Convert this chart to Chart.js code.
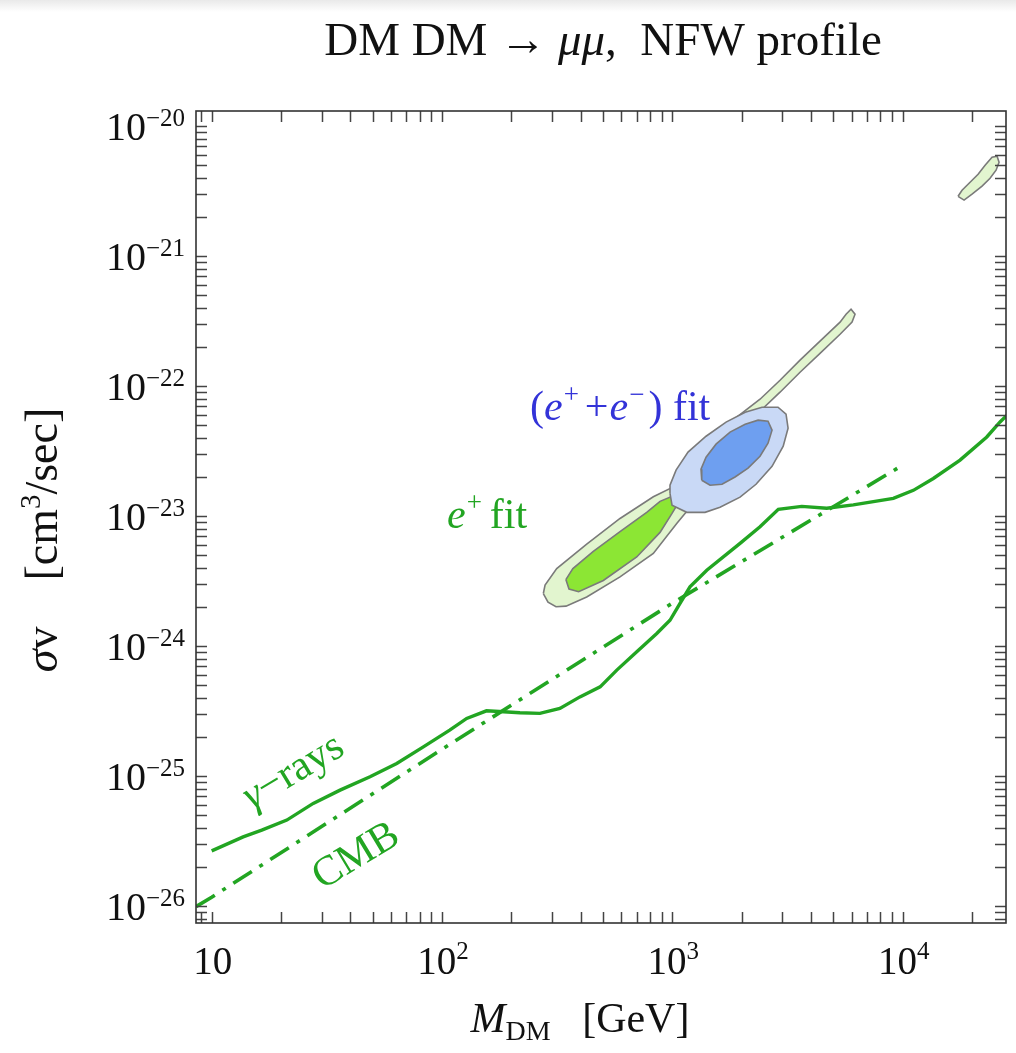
<!DOCTYPE html>
<html><head><meta charset="utf-8">
<script src="https://cdn.jsdelivr.net/npm/chart.js@4.4.1/dist/chart.umd.min.js"></script>
<style>
html,body{margin:0;padding:0;background:#fff;}
#wrap{width:1016px;height:1053px;position:relative;background:linear-gradient(#e9e9e9 0px,#ffffff 12px,#ffffff 100%);}
canvas{display:block;}
</style>
</head><body><div id="wrap"><canvas id="c" width="1016" height="1053"></canvas></div>
<script>
// ---------- data (M_DM in GeV, sigma v in cm^3/s) ----------
const gammaMass = [10, 13.7, 16.5, 21.2, 27.6, 36.1, 48.7, 63.6, 83.0, 108, 128, 156, 185, 218, 266, 325, 397, 486, 574, 701, 856, 977, 1080, 1193, 1411, 1968, 2403, 2886, 3647, 4681, 6107, 9112, 11130, 13590, 17750, 23190, 26480, 28400];
const gammaSigma = [2.66e-26, 3.41e-26, 3.84e-26, 4.59e-26, 6.17e-26, 7.80e-26, 9.88e-26, 1.25e-25, 1.68e-25, 2.26e-25, 2.78e-25, 3.18e-25, 3.13e-25, 3.07e-25, 3.04e-25, 3.32e-25, 4.07e-25, 4.86e-25, 6.54e-25, 9.04e-25, 1.25e-24, 1.58e-24, 2.13e-24, 2.86e-24, 3.84e-24, 6.17e-24, 8.28e-24, 1.13e-23, 1.19e-23, 1.15e-23, 1.22e-23, 1.37e-23, 1.58e-23, 1.95e-23, 2.70e-23, 4.07e-23, 5.31e-23, 5.98e-23];

const cmbMass = [8.55, 10, 100, 1000, 10000];
const cmbSigma = [9.9e-27, 1.17e-26, 1.61e-25, 2.14e-24, 2.47e-23];

// e+ fit, outer region
const ePosOuterMass = [275.4, 288.6, 312.6, 345.5, 424.9, 592.8, 827, 1045, 1320, 1968, 2403, 2935, 3585, 4378, 5349, 6030, 6213, 5969, 5679, 5349, 4378, 3585, 2935, 2403, 1611, 1010, 827, 592.8, 424.9, 314.8, 280.2];
const ePosOuterSigma = [2.54e-24, 2.18e-24, 2.01e-24, 2.03e-24, 2.39e-24, 3.41e-24, 5.17e-24, 8.79e-24, 1.45e-23, 3.84e-23, 6.42e-23, 8.99e-23, 1.28e-22, 1.79e-22, 2.51e-22, 3.11e-22, 3.58e-22, 3.91e-22, 3.58e-22, 3.11e-22, 2.22e-22, 1.585e-22, 1.11e-22, 7.94e-23, 4.59e-23, 1.68e-23, 1.41e-23, 9.60e-24, 6.10e-24, 3.95e-24, 2.95e-24];
// e+ fit, inner region
const ePosInnerMass = [345, 356, 392, 501.7, 700.6, 884.3, 997, 1080, 997, 884.3, 774.1, 592.8, 453.9, 370];
const ePosInnerSigma = [3.25e-24, 2.75e-24, 2.62e-24, 3.20e-24, 4.85e-24, 7.50e-24, 1.05e-23, 1.33e-23, 1.42e-23, 1.30e-23, 1.07e-23, 7.60e-24, 5.35e-24, 3.95e-24];
// e+ fit, high-mass island
const ePosHighMass = [17400, 18480, 20010, 22120, 23960, 25440, 26220, 25700, 24440, 22800, 21260, 19620, 18110];
const ePosHighSigma = [2.89e-21, 2.70e-21, 3.00e-21, 3.46e-21, 3.98e-21, 4.59e-21, 5.29e-21, 5.88e-21, 5.77e-21, 5.01e-21, 4.27e-21, 3.71e-21, 3.22e-21];
// (e+ + e-) fit, outer region
const eTotOuterMass = [977, 997, 1155, 1387, 1611, 1968, 2309, 2710, 3030, 3181, 3117, 2877, 2452, 2071, 1711, 1401, 1170, 1038, 977];
const eTotOuterSigma = [1.50e-23, 1.215e-23, 1.07e-23, 1.07e-23, 1.17e-23, 1.40e-23, 1.76e-23, 2.42e-23, 3.46e-23, 4.75e-23, 6.09e-23, 6.89e-23, 6.89e-23, 6.31e-23, 5.29e-23, 4.12e-23, 3.11e-23, 2.26e-23, 1.73e-23];
// (e+ + e-) fit, inner region
const eTotInnerMass = [1342, 1458, 1644, 1872, 2132, 2403, 2603, 2710, 2603, 2357, 2071, 1781, 1548, 1401, 1332];
const eTotInnerSigma = [1.89e-23, 1.73e-23, 1.76e-23, 2.00e-23, 2.34e-23, 2.89e-23, 3.64e-23, 4.59e-23, 5.38e-23, 5.48e-23, 5.10e-23, 4.43e-23, 3.58e-23, 2.84e-23, 2.30e-23];

// axes
const xMin = 8.55, xMax = 28100;
const yMin = 7.41e-27, yMax = 1.31e-20;
const xTickValues = [10, 100, 1000, 10000];
const xTickExponents = ['', '2', '3', '4'];
const yTickValues = [1e-20, 1e-21, 1e-22, 1e-23, 1e-24, 1e-25, 1e-26];
const yTickExponents = ['\u221220', '\u221221', '\u221222', '\u221223', '\u221224', '\u221225', '\u221226'];

// ---------- styling ----------
const GREEN = '#22a522';
const BLUE_TXT = '#3333d8';
const OUTLINE = '#7a7a7a';
const SERIF = '"Liberation Serif", "DejaVu Serif", serif';

const toPts = (xs, ys) => xs.map((x, i) => ({x: x, y: ys[i]}));
const closed = (xs, ys) => { const p = toPts(xs, ys); p.push({x: xs[0], y: ys[0]}); return p; };

function region(data, fillColor, order) {
  return {data: data, showLine: true, fill: 'shape', backgroundColor: fillColor,
    borderColor: OUTLINE, borderWidth: 1.6, pointRadius: 0, tension: 0, order: order};
}

function fontOf(p) { return (p.it ? 'italic ' : '') + p.s + 'px ' + SERIF; }
function richWidth(ctx, parts) {
  let w = 0;
  for (const p of parts) { ctx.font = fontOf(p); w += ctx.measureText(p.t).width + (p.g || 0); }
  return w;
}
function drawRich(ctx, parts, x, y, align) {
  const w = richWidth(ctx, parts);
  let cx = align === 'center' ? x - w / 2 : (align === 'right' ? x - w : x);
  ctx.textAlign = 'left'; ctx.textBaseline = 'alphabetic';
  for (const p of parts) {
    ctx.font = fontOf(p);
    ctx.fillText(p.t, cx, y + (p.dy || 0));
    cx += ctx.measureText(p.t).width + (p.g || 0);
  }
}
function drawRotated(ctx, parts, x, y, ang, align) {
  ctx.save(); ctx.translate(x, y); ctx.rotate(ang); drawRich(ctx, parts, 0, 0, align); ctx.restore();
}

const framePlugin = {
  id: 'frame',
  afterDatasetsDraw(chart) {
    const ctx = chart.ctx, a = chart.chartArea;
    const xs = chart.scales.x, ys = chart.scales.y;
    ctx.save();
    ctx.strokeStyle = '#444'; ctx.lineWidth = 1.5;
    const L = 11;
    for (let n = Math.floor(Math.log10(xs.min)); n <= Math.ceil(Math.log10(xs.max)); n++) {
      for (let k = 1; k <= 9; k++) {
        const v = k * Math.pow(10, n);
        if (v < xs.min || v > xs.max) continue;
        const px = Math.round(xs.getPixelForValue(v)) + 0.5;
        ctx.beginPath();
        ctx.moveTo(px, a.bottom); ctx.lineTo(px, a.bottom - L);
        ctx.moveTo(px, a.top); ctx.lineTo(px, a.top + L);
        ctx.stroke();
      }
    }
    for (let n = Math.floor(Math.log10(ys.min)); n <= Math.ceil(Math.log10(ys.max)); n++) {
      for (let k = 1; k <= 9; k++) {
        const v = k * Math.pow(10, n);
        if (v < ys.min || v > ys.max) continue;
        const py = Math.round(ys.getPixelForValue(v)) + 0.5;
        ctx.beginPath();
        ctx.moveTo(a.left, py); ctx.lineTo(a.left + L, py);
        ctx.moveTo(a.right, py); ctx.lineTo(a.right - L, py);
        ctx.stroke();
      }
    }
    ctx.strokeStyle = '#333'; ctx.lineWidth = 1.6;
    ctx.strokeRect(a.left, a.top, a.right - a.left, a.bottom - a.top);
    ctx.restore();
  },
  afterDraw(chart) {
    const ctx = chart.ctx;
    const xs = chart.scales.x, ys = chart.scales.y;
    ctx.save();
    ctx.fillStyle = '#111';
    // tick labels
    xTickValues.forEach((v, i) => {
      const px = xs.getPixelForValue(v);
      const parts = [{t: '10', s: 39}];
      if (xTickExponents[i]) parts.push({t: xTickExponents[i], s: 25, dy: -15});
      drawRich(ctx, parts, px + 1, 974, 'center');
    });
    yTickValues.forEach((v, i) => {
      const py = ys.getPixelForValue(v);
      drawRich(ctx, [{t: '10', s: 40}, {t: yTickExponents[i], s: 25, dy: -14, }], 185, py + 14, 'right');
    });
    // title
    drawRich(ctx, [{t: 'DM DM \u2192 ', s: 47}, {t: '\u03bc\u03bc', s: 47, it: true}, {t: ',  NFW profile', s: 47}], 603, 55, 'center');
    // axis titles
    drawRich(ctx, [{t: 'M', s: 42, it: true}, {t: 'DM', s: 28, dy: 8}, {t: '   [GeV]', s: 42}], 580, 1032, 'center');
    drawRotated(ctx, [{t: '\u03c3', s: 46, it: true}, {t: 'v    [cm', s: 46}, {t: '3', s: 29, dy: -17}, {t: '/sec]', s: 46}], 57, 540, -Math.PI / 2, 'center');
    // annotations
    ctx.fillStyle = BLUE_TXT;
    drawRich(ctx, [{t: '(', s: 42}, {t: 'e', s: 42, it: true, g: 1}, {t: '+', s: 27, dy: -17, g: 6}, {t: '+', s: 42, g: 1}, {t: 'e', s: 42, it: true, g: 1}, {t: '\u2212', s: 27, dy: -17, g: 4}, {t: ') fit', s: 42}], 530, 420, 'left');
    ctx.fillStyle = GREEN;
    drawRich(ctx, [{t: 'e', s: 42, it: true, g: 1}, {t: '+', s: 27, dy: -17, g: 8}, {t: 'fit', s: 42}], 447, 528, 'left');
    const ang = -31 * Math.PI / 180;
    drawRotated(ctx, [{t: '\u03b3', s: 42, it: true}, {t: '\u2212rays', s: 42}], 252, 810, ang, 'left');
    drawRotated(ctx, [{t: 'CMB', s: 42}], 322, 890, ang, 'left');
    ctx.restore();
  }
};

new Chart(document.getElementById('c'), {
  type: 'scatter',
  data: {
    datasets: [
      {label: 'gamma-rays', data: toPts(gammaMass, gammaSigma), showLine: true, borderColor: GREEN, borderWidth: 3.4, pointRadius: 0, fill: false, tension: 0, order: 0},
      {label: 'CMB', data: toPts(cmbMass, cmbSigma), showLine: true, borderColor: GREEN, borderWidth: 3.6, borderDash: [22, 9, 4, 9], pointRadius: 0, fill: false, tension: 0, order: 0},
      Object.assign(region(closed(eTotInnerMass, eTotInnerSigma), '#6e9ff0', 1), {label: 'e+e- inner'}),
      Object.assign(region(closed(eTotOuterMass, eTotOuterSigma), '#c9d9f6', 2), {label: 'e+e- outer'}),
      Object.assign(region(closed(ePosInnerMass, ePosInnerSigma), '#8ce634', 3), {label: 'e+ inner'}),
      Object.assign(region(closed(ePosOuterMass, ePosOuterSigma), '#e2f5cf', 4), {label: 'e+ outer'}),
      Object.assign(region(closed(ePosHighMass, ePosHighSigma), '#e2f5cf', 4), {label: 'e+ high'})
    ]
  },
  options: {
    responsive: false,
    animation: false,
    devicePixelRatio: 1,
    layout: {padding: {left: 196, right: 10, top: 111, bottom: 130}},
    plugins: {legend: {display: false}, tooltip: {enabled: false}, title: {display: false}},
    scales: {
      x: {type: 'logarithmic', min: xMin, max: xMax, grid: {display: false, drawTicks: false}, border: {display: false}, ticks: {display: false}},
      y: {type: 'logarithmic', min: yMin, max: yMax, grid: {display: false, drawTicks: false}, border: {display: false}, ticks: {display: false}}
    }
  },
  plugins: [framePlugin]
});
</script>
</body></html>
